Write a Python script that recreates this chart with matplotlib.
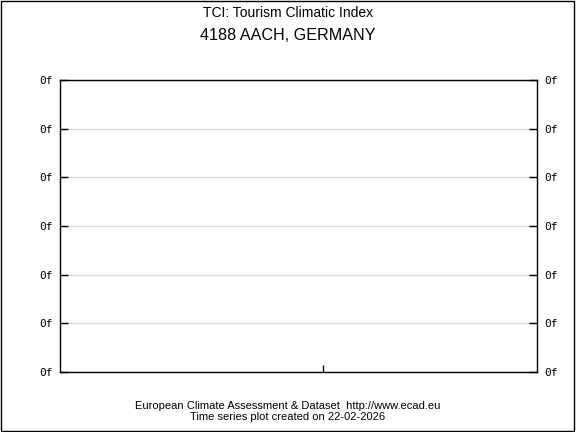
import matplotlib
matplotlib.use('Agg')
import matplotlib.pyplot as plt
from matplotlib.patches import Rectangle

# ========== data ==========
title = "TCI: Tourism Climatic Index"
station = "4188 AACH, GERMANY"
y_ticks = [0, 1, 2, 3, 4, 5, 6]
y_labels = ["0f"] * 7
x_ticks = [0.551]
footer = "European Climate Assessment & Dataset  http://www.ecad.eu\nTime series plot created on 22-02-2026"

plt.rcParams['font.family'] = ['Liberation Sans', 'DejaVu Sans']

fig = plt.figure(figsize=(5.76, 4.32), dpi=100)
ax = fig.add_axes([60 / 576, 1 - 372 / 432, 477 / 576, 292 / 432])

ax.set_xlim(0, 1)
ax.set_ylim(y_ticks[0], y_ticks[-1])
ax.set_yticks(y_ticks)
ax.set_yticklabels(y_labels, family='DejaVu Sans Mono', fontsize=8)
ax.set_xticks(x_ticks)
ax.set_xticklabels([])
ax.tick_params(axis='y', direction='in', length=6, width=1, left=True, right=True,
               labelleft=True, labelright=True, pad=8, color='black')
# right-hand labels sit a little closer to the frame
for t in ax.yaxis.get_major_ticks():
    t.label2.set_x(1.0)
    t.set_pad(5)
ax.tick_params(axis='x', direction='in', length=5, width=1, bottom=True, top=False)
ax.grid(axis='y', color='#d9d9d9', linewidth=1)
for s in ax.spines.values():
    s.set_linewidth(1)
    s.set_color('black')

fig.text(0.5, 1 - 13 / 432, title, ha='center', va='center', fontsize=10)
fig.text(0.5, 1 - 36 / 432, station, ha='center', va='center', fontsize=11.6)
fig.text(0.5, 1 - 411.5 / 432, footer, ha='center', va='center', fontsize=8, linespacing=1.15)

fig.patches.append(Rectangle((0.5 / 576, 1.5 / 432), 573 / 576, 429.5 / 432,
                             transform=fig.transFigure, fill=False,
                             edgecolor='black', linewidth=1))

plt.savefig('out.png', dpi=100)
